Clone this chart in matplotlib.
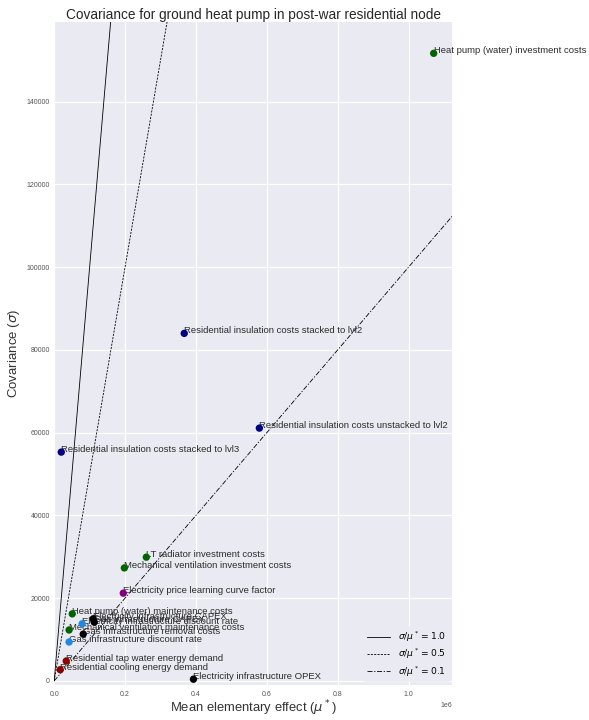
import numpy as np
import matplotlib
matplotlib.use("Agg")
import matplotlib.pyplot as plt

plt.rcParams['font.family'] = ['Liberation Sans', 'DejaVu Sans']
plt.rcParams['mathtext.fontset'] = 'dejavusans'

# ---- data ----
params = [
    "Heat pump (water) investment costs",
    "Residential insulation costs stacked to lvl2",
    "Residential insulation costs unstacked to lvl2",
    "Residential insulation costs stacked to lvl3",
    "LT radiator investment costs",
    "Mechanical ventilation investment costs",
    "Electricity price learning curve factor",
    "Heat pump (water) maintenance costs",
    "Electricity infrastructure CAPEX",
    "Gas infrastructure CAPEX",
    "Electricity infrastructure discount rate",
    "Mechanical ventilation maintenance costs",
    "Gas infrastructure removal costs",
    "Gas infrastructure discount rate",
    "Residential tap water energy demand",
    "Residential cooling energy demand",
    "Electricity infrastructure OPEX",
]
mu_star = [1.071e6, 0.367e6, 0.579e6, 0.020e6, 0.260e6, 0.198e6, 0.195e6,
           0.051e6, 0.110e6, 0.113e6, 0.079e6, 0.042e6, 0.082e6, 0.042e6,
           0.034e6, 0.017e6, 0.393e6]
sigma = [151700, 84000, 61100, 55300, 29900, 27300, 21200,
         16200, 15000, 14200, 13800, 12300, 11300, 9400,
         4800, 2700, 400]
point_colors = ["darkgreen", "navy", "navy", "navy", "darkgreen", "darkgreen", "purple",
                "darkgreen", "black", "black", "#1E88E5", "darkgreen", "black", "#1E88E5",
                "darkred", "darkred", "black"]
ratios = [1.0, 0.5, 0.1]
ratio_styles = ['-', (0, (2.5, 1.5)), (0, (6, 2, 1.5, 2))]

fig = plt.figure(figsize=(5.89, 7.2), dpi=100)
ax = fig.add_axes([0.092, 0.0486, 0.676, 0.9208])
ax.set_facecolor('#EAEAF2')
for s in ax.spines.values():
    s.set_visible(False)
ax.grid(True, color='white', linewidth=0.9)
ax.set_axisbelow(True)

ax.scatter(mu_star, sigma, c=point_colors, s=28, zorder=4, linewidths=0)
for name, x, y in zip(params, mu_star, sigma):
    ax.text(x, y, name, fontsize=6.8, color='#2b2b2b', zorder=3)

ax.set_xlim(left=0)
ax.set_ylim(bottom=-1000)
ax.autoscale(False)
xmax = ax.get_xlim()[1]
xs = np.linspace(0, xmax, 50)
for r, ls in zip(ratios, ratio_styles):
    ax.plot(xs, r * xs, color='black', linestyle=ls, linewidth=0.6,
            label=r'$\sigma/\mu^* = %.1f$' % r)

ax.tick_params(axis='x', labelsize=5, colors='#555555', length=0, pad=4.5)
ax.tick_params(axis='y', labelsize=5, colors='#555555', length=0, pad=3)
ax.set_xlabel(r'Mean elementary effect ($\mu^*$)', fontsize=9.4, color='#333333', labelpad=0)
ax.set_ylabel(r'Covariance ($\sigma$)', fontsize=9.5, color='#333333', labelpad=3)
ax.set_title('Covariance for ground heat pump in post-war residential node',
             fontsize=9.8, color='#262626', pad=2.5)
ax.xaxis.get_offset_text().set_fontsize(5)
ax.xaxis.get_offset_text().set_color('#555555')

leg = ax.legend(loc='lower right', fontsize=6.6, frameon=True, framealpha=0.8,
                facecolor='#EAEAF2', edgecolor='none', handlelength=2.6,
                labelspacing=0.3, borderaxespad=0.3)

fig.savefig('out.png', dpi=100)
